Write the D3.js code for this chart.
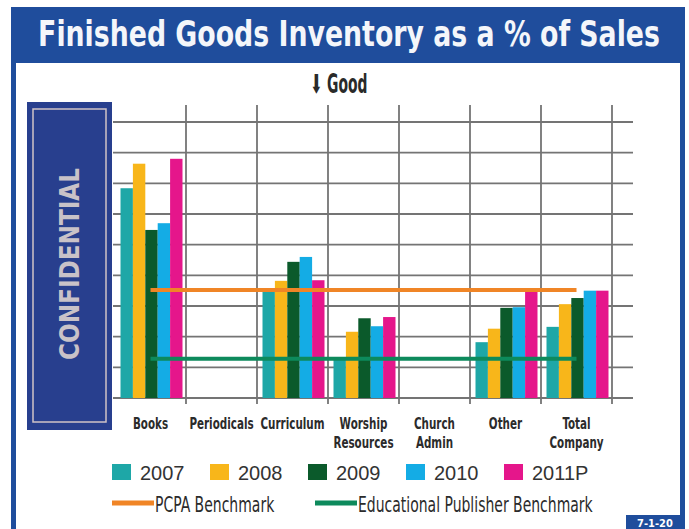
<!DOCTYPE html>
<html>
<head>
<meta charset="utf-8">
<script src="https://cdn.jsdelivr.net/npm/d3@7"></script>
<style>
  body { margin: 0; background: #fff; }
  svg { display: block; }
  .cond { font-family: "DejaVu Sans Condensed", sans-serif; }
</style>
</head>
<body>
<svg id="chart" width="689" height="529"></svg>
<script>
// ** DATA *****************************************
const categories = ["Books", "Periodicals", "Curriculum", "Worship Resources", "Church Admin", "Other", "Total Company"];
const categoryLines = [["Books"], ["Periodicals"], ["Curriculum"], ["Worship", "Resources"], ["Church", "Admin"], ["Other"], ["Total", "Company"]];
const years = ["2007", "2008", "2009", "2010", "2011P"];

// % of sales (null = no bar)
const values2007  = [34.2, null, 17.3,  6.6, null,  9.1, 11.6];
const values2008  = [38.2, null, 19.1, 10.8, null, 11.3, 15.3];
const values2009  = [27.4, null, 22.2, 13.0, null, 14.7, 16.3];
const values2010  = [28.5, null, 23.0, 11.7, null, 14.8, 17.5];
const values2011P = [39.0, null, 19.2, 13.2, null, 17.8, 17.5];

const benchmarkNames = ["PCPA Benchmark", "Educational Publisher Benchmark"];
const benchmarkValues = [17.6, 6.4];

const yTicks = [0, 5, 10, 15, 20, 25, 30, 35, 40, 45];

// ** SETUP *****************************************
const yearValues = [values2007, values2008, values2009, values2010, values2011P];
const yearColours = ["#1ea7a7", "#f8b61a", "#0b5a2b", "#14ace5", "#e5168b"];
const benchColours = ["#f08526", "#0d8a5c"];
const frameBlue = "#1f4d9c";

const svg = d3.select("#chart");
const H = 529;

// squeeze a text horizontally (the original uses a condensed face)
function squeeze(sel, x, y, sx) {
    sel.attr("x", 0).attr("y", 0)
        .attr("transform", "translate(" + x + "," + y + ") scale(" + sx + ",1)");
    sel.selectAll("tspan").attr("x", 0);
    return sel;
}
function fitTo(sel, x, y, width) {
    const w = sel.node().getComputedTextLength();
    return squeeze(sel, x, y, width / w);
}

// frame
svg.append("rect").attr("x", 11).attr("y", 7).attr("width", 674).attr("height", H - 7).attr("fill", frameBlue);
svg.append("rect").attr("x", 16).attr("y", 63).attr("width", 664).attr("height", H - 63).attr("fill", "#fff");

let title = svg.append("text")
    .attr("class", "cond")
    .attr("text-anchor", "middle")
    .attr("font-size", 35).attr("font-weight", "bold")
    .attr("fill", "#f4f6fa")
    .text("Finished Goods Inventory as a % of Sales");
fitTo(title, 349, 46, 622);

// page tag bottom right
svg.append("rect").attr("x", 626).attr("y", 515).attr("width", 59).attr("height", 14).attr("fill", frameBlue);
svg.append("text").attr("class", "cond")
    .attr("x", 655).attr("y", 527)
    .attr("text-anchor", "middle")
    .attr("font-size", 11).attr("font-weight", "bold").attr("fill", "#fff")
    .text("7-1-20");

// confidential box
svg.append("rect").attr("x", 27).attr("y", 102).attr("width", 85).attr("height", 328).attr("fill", "#283f8e");
svg.append("rect").attr("x", 33).attr("y", 109).attr("width", 73).attr("height", 313)
    .attr("fill", "none").attr("stroke", "#cfc3c6").attr("stroke-width", 1.5);
svg.append("text")
    .attr("transform", "translate(79,264) rotate(-90)")
    .attr("text-anchor", "middle")
    .attr("font-family", "DejaVu Sans Condensed, sans-serif")
    .attr("font-size", 27).attr("font-weight", "bold")
    .attr("fill", "#c9c2c8")
    .attr("textLength", 192).attr("lengthAdjust", "spacingAndGlyphs")
    .text("CONFIDENTIAL");

// ** SCALES *****************************************
const xScale = d3.scaleBand().domain(categories).range([115, 612]).padding(0);
const xInner = d3.scaleBand().domain(years).range([5.5, 67.5]).padding(0);
const yScale = d3.scaleLinear().domain([0, 45]).range([398, 122]);

const chart = svg.append("g").attr("class", "barChart");

// ** GRID *****************************************
chart.append("g")
    .selectAll("line")
    .data(yTicks).enter()
    .append("line")
    .attr("x1", 113).attr("x2", 633)
    .attr("y1", d => yScale(d)).attr("y2", d => yScale(d))
    .attr("stroke", "#747474").attr("stroke-width", 1.8);

chart.append("g")
    .selectAll("line")
    .data(categories).enter()
    .append("line")
    .attr("x1", d => xScale(d) + xScale.bandwidth())
    .attr("x2", d => xScale(d) + xScale.bandwidth())
    .attr("y1", 105).attr("y2", 404)
    .attr("stroke", "#747474").attr("stroke-width", 1.8);

// ** BARS *****************************************
years.forEach((yr, i) => {
    const rows = categories.map((c, j) => ({cat: c, value: yearValues[i][j]})).filter(d => d.value !== null);
    chart.append("g")
        .selectAll("rect")
        .data(rows).enter()
        .append("rect")
        .attr("x", d => xScale(d.cat) + xInner(yr))
        .attr("y", d => yScale(d.value))
        .attr("width", xInner.bandwidth())
        .attr("height", d => yScale(0) - yScale(d.value))
        .attr("fill", yearColours[i]);
});

// benchmark lines
const firstCat = categories[0], lastCat = categories[categories.length - 1];
benchmarkValues.forEach((v, i) => {
    chart.append("line")
        .attr("x1", xScale(firstCat) + xScale.bandwidth() / 2)
        .attr("x2", xScale(lastCat) + xScale.bandwidth() / 2)
        .attr("y1", yScale(v)).attr("y2", yScale(v))
        .attr("stroke", benchColours[i]).attr("stroke-width", 4);
});

// ** LABELS *****************************************
let good = svg.append("text")
    .attr("class", "cond")
    .attr("text-anchor", "middle")
    .attr("font-size", 26).attr("font-weight", 600)
    .attr("fill", "#2a2a2a")
    .text("\u2B07 Good");
fitTo(good, 339, 93, 57);

const xLabels = chart.append("g").attr("class", "cond");
categories.forEach((c, i) => {
    const t = xLabels.append("text")
        .attr("text-anchor", "middle")
        .attr("font-size", 16).attr("font-weight", 600)
        .attr("fill", "#2b2b2b");
    categoryLines[i].forEach((ln, k) => {
        t.append("tspan")
            .attr("dy", k === 0 ? 0 : 19)
            .text(ln);
    });
    squeeze(t, xScale(c) + xScale.bandwidth() / 2, 429, 0.72);
});

// ** LEGEND *****************************************
const legend = svg.append("g").attr("class", "legend");
years.forEach((yr, i) => {
    const lx = 112 + i * 98;
    legend.append("rect")
        .attr("x", lx).attr("y", 464)
        .attr("width", 19).attr("height", 16)
        .attr("fill", yearColours[i]);
    legend.append("text")
        .attr("x", lx + 28).attr("y", 480)
        .attr("font-family", "Liberation Sans, sans-serif")
        .attr("font-size", 20)
        .attr("fill", "#333")
        .text(yr);
});

const benchLegendX = [112, 315];
benchmarkNames.forEach((name, i) => {
    legend.append("line")
        .attr("x1", benchLegendX[i]).attr("x2", benchLegendX[i] + 42)
        .attr("y1", 503).attr("y2", 503)
        .attr("stroke", benchColours[i]).attr("stroke-width", 5);
    const t = legend.append("text")
        .attr("class", "cond")
        .attr("font-size", 21)
        .attr("fill", "#2b2b2b")
        .text(name);
    squeeze(t, benchLegendX[i] + 43, 512, 0.74);
});
</script>
</body>
</html>
